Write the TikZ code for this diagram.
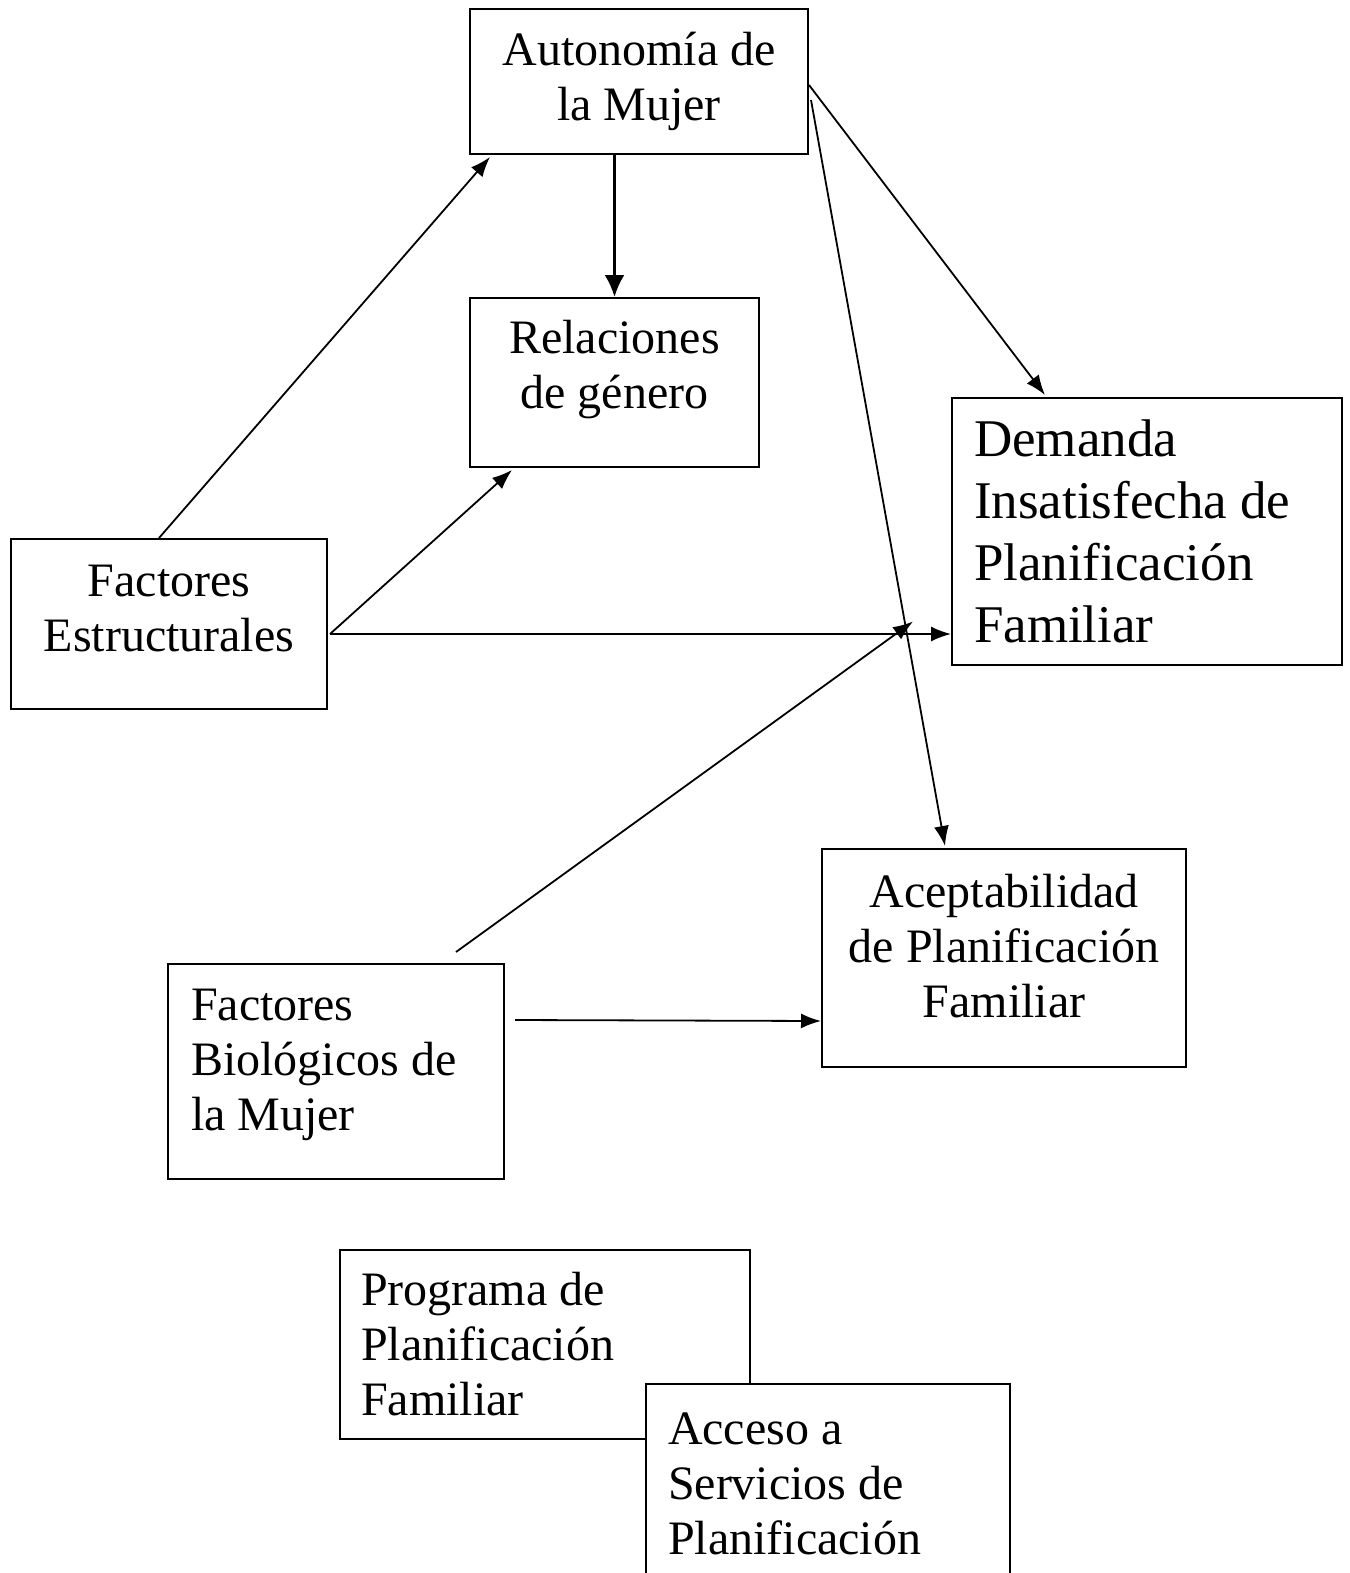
\documentclass[tikz,border=0pt]{standalone}
\usepackage{fontspec}
\setmainfont{Liberation Serif}
\usetikzlibrary{arrows.meta,calc}
\begin{document}
\begin{tikzpicture}[x=0.5pt,y=-0.5pt,
    box/.style={draw,line width=1pt,anchor=north west,inner sep=0pt,
        font={\fontsize{24}{27.5}\selectfont}},
    mid/.style={box,align=center},
    lft/.style={box,align=flush left},
    link/.style={line width=0.9pt,-{Latex[length=10pt,width=7.5pt]}},
    biglink/.style={line width=1.4pt,-{Latex[length=11pt,width=10pt]}}
]
    \useasboundingbox (0,0) rectangle (1349,1573);
    \clip (0,0) rectangle (1349,1573);

    \node [mid,minimum width=169pt,minimum height=72.5pt] (au) at (469,8)
        {Autonomía de\\la Mujer};
    \node [mid,minimum width=144.5pt,minimum height=84.5pt,text depth=18pt] (re) at (469,297)
        {Relaciones\\de género};
    \node [lft,minimum width=195pt,minimum height=133.5pt,text width=173pt,
        font={\fontsize{26.5}{31}\selectfont}] (de) at (951,397)
        {Demanda\\Insatisfecha de\\Planificación\\Familiar};
    \node [mid,minimum width=158pt,minimum height=85pt,text depth=16pt] (es) at (10,538)
        {Factores\\Estructurales};
    \node [mid,minimum width=182pt,minimum height=109pt,text depth=12pt] (ac) at (821,848)
        {Aceptabilidad\\de Planificación\\Familiar};
    \node [lft,minimum width=168pt,minimum height=107.5pt,text width=145pt,text depth=67pt] (fb) at (167,963)
        {Factores\\Biológicos de\\la Mujer};
    \node [lft,minimum width=205pt,minimum height=94.5pt,text width=184pt] (pr) at (339,1249)
        {Programa de\\Planificación\\Familiar};
    \node [lft,fill=white,minimum width=182pt,minimum height=100pt,text width=160pt] (acc) at (645,1383)
        {Acceso a\\Servicios de\\Planificación};

    \coordinate (es-out) at ($(es.east)+(2,10)$);
    \coordinate (bio-end) at ($(de.west)+(-38,90)$);

    \draw [link] ($(es.north)+(-10,0)$) -- ($(au.south west)+(21,2)$);
    \draw [biglink] (au.south -| re.north) -- (re.north);
    \draw [link] (es-out) -- ($(re.south west)+(43,2)$);
    \draw [link] (es-out) -- (es-out -| de.west);
    \draw [link] ($(au.north east)+(0,77)$) -- ($(de.north west)+(94,-2)$);
    \draw [link] ($(au.north east)+(2,92)$) -- ($(ac.north west)+(124,-2)$);
    \draw [link] ($(fb.north west)+(289,-11)$) -- (bio-end);
    \draw [link] ($(fb.north east)+(10,57)$) -- ($(ac.north west)+(0,173)$);
\end{tikzpicture}
\end{document}
